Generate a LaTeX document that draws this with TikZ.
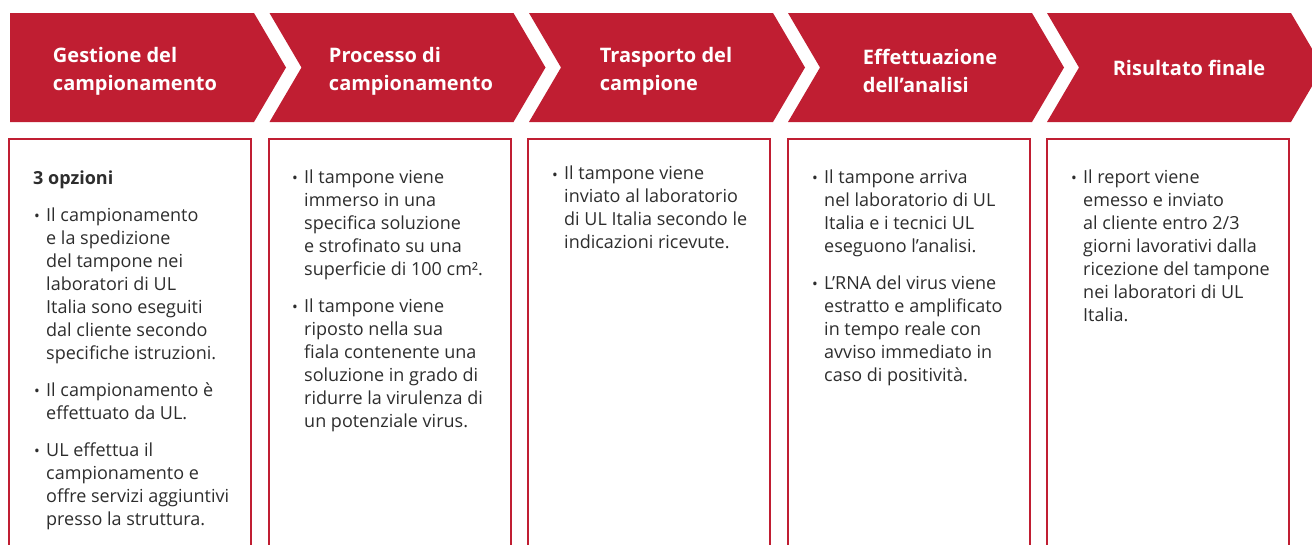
\documentclass[tikz,border=0pt]{standalone}
\usepackage{fontspec}
\setmainfont{Open Sans}
\definecolor{ulred}{RGB}{192,30,50}
\definecolor{txt}{RGB}{45,45,45}
\newcommand{\headfont}{\fontsize{20}{28}\selectfont\bfseries}
\newcommand{\bodyfont}{\fontsize{18}{23}\selectfont}
\newcommand{\bulpar}[1]{\par\hangindent=13pt\hangafter=1\noindent\makebox[13pt][l]{\hspace{1pt}\raisebox{-0.05em}{\scalebox{0.85}{•}}}#1\par}
\newcommand{\bodybox}[1]{\begin{minipage}[t]{230pt}\raggedright\bodyfont\setlength{\parskip}{14pt}#1\end{minipage}}
\begin{document}
\begin{tikzpicture}[x=1pt,y=-1pt,
  chev/.style={fill=ulred},
  boxline/.style={draw=ulred,line width=2pt},
  head/.style={text=white,font=\headfont,align=left,inner sep=0pt},
  body/.style={anchor=base west,inner sep=0pt,text=txt}]
\useasboundingbox (0,0) rectangle (1312,544);
\clip (0,0) rectangle (1312,544);
% chevrons
\fill[chev] (10,13) -- (254,13) -- (286,67.5) -- (254,122) -- (10,122) -- cycle;
\foreach \L in {269.5,529,788,1047}{
  \fill[chev] (\L,13) -- (\L+244,13) -- (\L+276,67.5) -- (\L+244,122) -- (\L,122) -- (\L+32,67.5) -- cycle;
}
% headers
\node[head] (h1) at (135,71) {Gestione del\\campionamento};
\node[head] (h2) at (411,71) {Processo di\\campionamento};
\node[head] (h3) at (666,71) {Trasporto del\\campione};
\node[head] (h4) at (930,71) {Effettuazione\\dell’analisi};
\node[head] (h5) at (1189,68) {Risultato finale};
% boxes
\foreach \L in {9,268.5,528,787.5,1047}{
  \draw[boxline] (\L,139) rectangle (\L+242,570);
}
% body texts
\node[body] (b1) at (33,184) {\bodybox{\textbf{3 opzioni}\par
\bulpar{Il campionamento\newline e la spedizione\newline del tampone nei\newline laboratori di UL\newline Italia sono eseguiti\newline dal cliente secondo\newline specifiche istruzioni.}
\bulpar{Il campionamento è\newline effettuato da UL.}
\bulpar{UL effettua il\newline campionamento e\newline offre servizi aggiuntivi\newline presso la struttura.}}};
\node[body] (b2) at (291,183) {\bodybox{\bulpar{Il tampone viene\newline immerso in una\newline specifica soluzione\newline e strofinato su una\newline superficie di 100 cm².}
\bulpar{Il tampone viene\newline riposto nella sua\newline fiala contenente una\newline soluzione in grado di\newline ridurre la virulenza di\newline un potenziale virus.}}};
\node[body] (b3) at (551,179.5) {\bodybox{\bulpar{Il tampone viene\newline inviato al laboratorio\newline di UL Italia secondo le\newline indicazioni ricevute.}}};
\node[body] (b4) at (811,183) {\bodybox{\bulpar{Il tampone arriva\newline nel laboratorio di UL\newline Italia e i tecnici UL\newline eseguono l’analisi.}
\bulpar{L’RNA del virus viene\newline estratto e amplificato\newline in tempo reale con\newline avviso immediato in\newline caso di positività.}}};
\node[body] (b5) at (1070,183) {\bodybox{\bulpar{Il report viene\newline emesso e inviato\newline al cliente entro 2/3\newline giorni lavorativi dalla\newline ricezione del tampone\newline nei laboratori di UL\newline Italia.}}};
\end{tikzpicture}
\end{document}
